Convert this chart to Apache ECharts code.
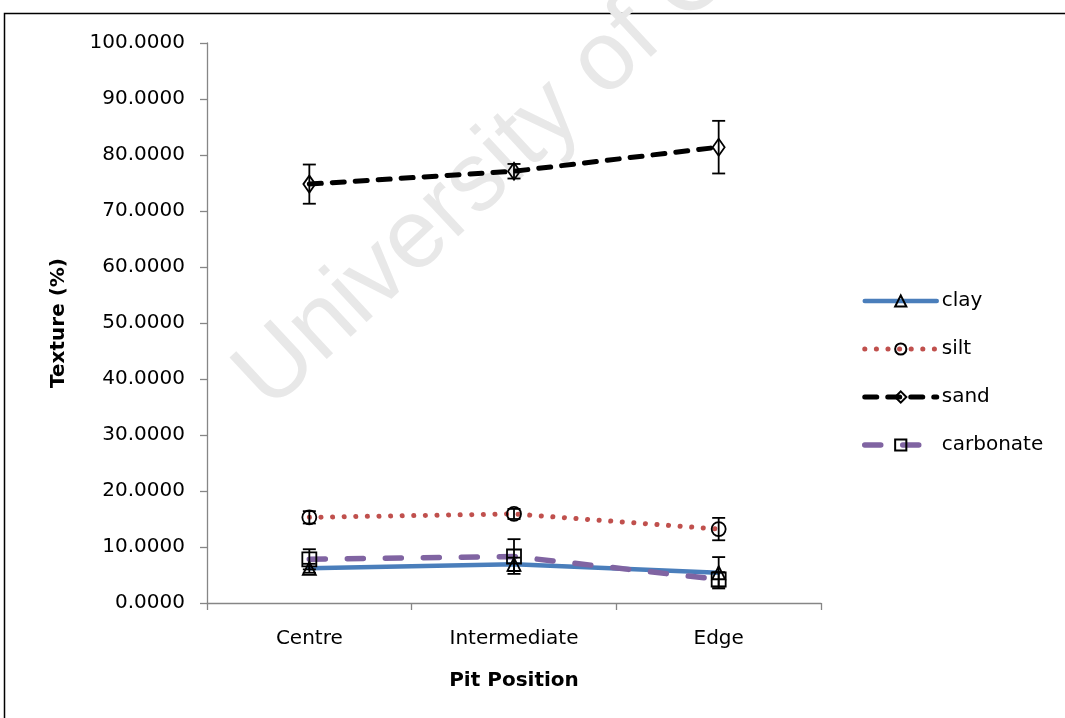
<!DOCTYPE html>
<html>
<head>
<meta charset="utf-8">
<script src="https://cdn.jsdelivr.net/npm/echarts@6/dist/echarts.min.js"></script>
<style>
html,body{margin:0;padding:0;background:#fff;}
#chart{width:1065px;height:718px;}
</style>
</head>
<body>
<div id="chart"></div>
<script>
var categories = ['Centre', 'Intermediate', 'Edge'];
var clay = [6.2, 6.9, 5.4];
var clayErr = [0.8, 1.2, 2.8];
var silt = [15.3, 15.9, 13.2];
var siltErr = [1.1, 0.9, 2.0];
var sand = [74.8, 77.1, 81.4];
var sandErr = [3.5, 1.3, 4.7];
var carbonate = [7.8, 8.3, 4.2];
var carbonateErr = [1.8, 3.1, 1.3];
var yTicks = [0, 10, 20, 30, 40, 50, 60, 70, 80, 90, 100];

var FONT = 'DejaVu Sans';
var chart = echarts.init(document.getElementById('chart'), null, {renderer: 'canvas'});

var styles = {
  clay: {color: '#4a7ebb', width: 4.5, type: 'solid', cap: 'round'},
  silt: {color: '#c0504d', width: 5, type: [0.1, 11.5], cap: 'round'},
  sand: {color: '#000', width: 5, type: [12, 11], cap: 'round'},
  carbonate: {color: '#8064a2', width: 5.5, type: [16, 22], cap: 'round'}
};

function errData(vals, errs) {
  return vals.map(function (v, i) { return [i, v - errs[i], v + errs[i]]; });
}
function errSeries(name, vals, errs) {
  return {
    type: 'custom',
    name: name + ' err',
    z: 5,
    silent: true,
    data: errData(vals, errs),
    encode: {x: 0, y: [1, 2]},
    renderItem: function (params, api) {
      var x = api.value(0);
      var lo = api.coord([x, api.value(1)]);
      var hi = api.coord([x, api.value(2)]);
      var w = 6.5;
      var st = {stroke: '#000', lineWidth: 1.8};
      return {
        type: 'group',
        children: [
          {type: 'line', shape: {x1: lo[0], y1: lo[1], x2: hi[0], y2: hi[1]}, style: st},
          {type: 'line', shape: {x1: lo[0] - w, y1: lo[1], x2: lo[0] + w, y2: lo[1]}, style: st},
          {type: 'line', shape: {x1: hi[0] - w, y1: hi[1], x2: hi[0] + w, y2: hi[1]}, style: st}
        ]
      };
    }
  };
}
function lineSeries(name, vals, symbol, size) {
  return {
    type: 'line',
    name: name,
    data: vals,
    symbol: symbol,
    symbolSize: size,
    showAllSymbol: true,
    z: 3,
    lineStyle: styles[name],
    itemStyle: {color: 'rgba(255,255,255,0)', borderColor: '#000', borderWidth: 1.8},
    emphasis: {disabled: true}
  };
}
function legendItem(name) {
  var s = styles[name];
  return {name: name, lineStyle: {width: s.width, type: s.type, color: s.color, cap: s.cap}};
}

var option = {
  animation: false,
  backgroundColor: '#fff',
  graphic: [
    {
      type: 'rect', z: -10, silent: true,
      shape: {x: 4.5, y: 13.5, width: 1200, height: 900},
      style: {fill: 'none', stroke: '#000', lineWidth: 1.5}
    },
    {
      type: 'text', z: -5, silent: true,
      x: 285, y: 428,
      rotation: 43 * Math.PI / 180,
      style: {
        text: 'University of Cape Town',
        fontSize: 98,
        fontFamily: 'Liberation Sans',
        fill: '#e8e8e8',
        textVerticalAlign: 'bottom'
      }
    }
  ],
  grid: {left: 207, top: 43, right: 244, bottom: 115, containLabel: false},
  legend: {
    orient: 'vertical',
    left: 862,
    top: 290,
    padding: 0,
    itemWidth: 72,
    itemHeight: 14,
    itemGap: 26,
    data: ['clay', 'silt', 'sand', 'carbonate'].map(legendItem),
    textStyle: {fontFamily: FONT, fontSize: 20, color: '#000', lineHeight: 22, padding: [0, 0, 0, 0]},
    selectedMode: false
  },
  xAxis: {
    type: 'category',
    data: categories,
    boundaryGap: true,
    axisLine: {lineStyle: {color: '#868686', width: 1.3}},
    axisTick: {show: true, length: 7, lineStyle: {color: '#868686', width: 1.3}},
    axisLabel: {color: '#000', fontFamily: FONT, fontSize: 20, margin: 26},
    name: 'Pit Position',
    nameLocation: 'middle',
    nameGap: 68,
    nameTextStyle: {color: '#000', fontFamily: FONT, fontSize: 20, fontWeight: 'bold'}
  },
  yAxis: {
    type: 'value',
    min: yTicks[0],
    max: yTicks[yTicks.length - 1],
    interval: yTicks[1] - yTicks[0],
    splitLine: {show: false},
    axisLine: {show: true, lineStyle: {color: '#868686', width: 1.3}},
    axisTick: {show: true, length: 7, lineStyle: {color: '#868686', width: 1.3}},
    axisLabel: {color: '#000', fontFamily: FONT, fontSize: 20, margin: 22,
      formatter: function (v) { return v.toFixed(4); }},
    name: 'Texture (%)',
    nameLocation: 'middle',
    nameRotate: 90,
    nameGap: 138,
    nameTextStyle: {color: '#000', fontFamily: FONT, fontSize: 20, fontWeight: 'bold'}
  },
  series: [
    lineSeries('clay', clay, 'triangle', 13),
    lineSeries('silt', silt, 'circle', 14),
    lineSeries('sand', sand, 'diamond', [12, 17]),
    lineSeries('carbonate', carbonate, 'rect', 14),
    errSeries('clay', clay, clayErr),
    errSeries('silt', silt, siltErr),
    errSeries('sand', sand, sandErr),
    errSeries('carbonate', carbonate, carbonateErr)
  ]
};
chart.setOption(option);
</script>
</body>
</html>
